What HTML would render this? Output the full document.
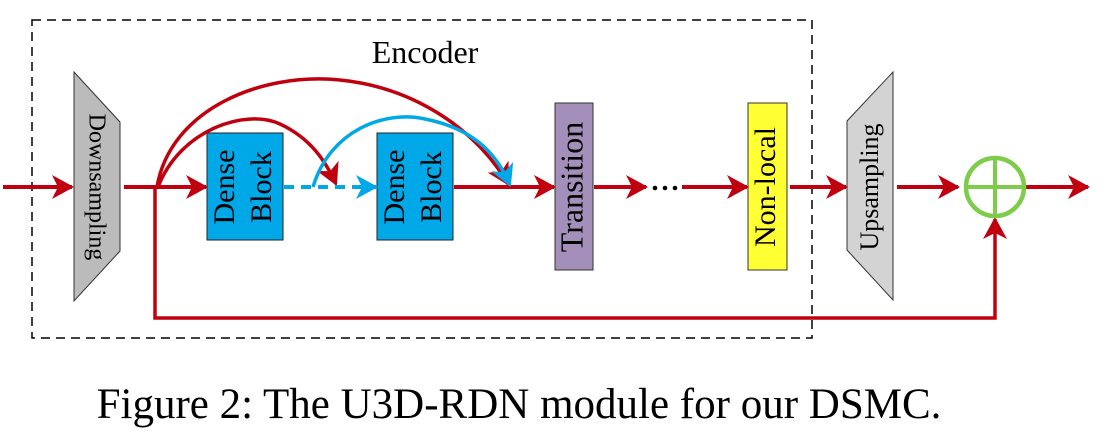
<!DOCTYPE html>
<html><head><style>body{margin:0;background:#fff}svg{display:block}</style></head><body>
<svg width="1110" height="434" viewBox="0 0 1110 434" xmlns="http://www.w3.org/2000/svg" font-family="Liberation Serif, serif">
<defs>
<marker id="ra" markerWidth="22" markerHeight="24" refX="20" refY="12" orient="auto" markerUnits="userSpaceOnUse" viewBox="0 0 22 24"><path d="M0,0 L22,12 L0,24 L6,12z" fill="#c0000e"/></marker>
<marker id="ba" markerWidth="22" markerHeight="24" refX="20" refY="12" orient="auto" markerUnits="userSpaceOnUse" viewBox="0 0 22 24"><path d="M0,0 L22,12 L0,24 L6,12z" fill="#00a8e8"/></marker>
</defs>
<rect x="32" y="20" width="780" height="318" fill="none" stroke="#000" stroke-width="1.5" stroke-dasharray="9,6"/>
<text x="425" y="63" font-size="32" text-anchor="middle">Encoder</text>
<polygon points="74,72 120,122 120,251 74,301" fill="#bbb" stroke="#333" stroke-width="1"/>
<text transform="translate(95,187) rotate(90)" font-size="24" text-anchor="middle" dominant-baseline="middle">Downsampling</text>
<rect x="207" y="133" width="76" height="107" fill="#00a8e8" stroke="#222"/>
<text transform="translate(227,187) rotate(-90)" font-size="30" text-anchor="middle" dominant-baseline="middle">Dense</text>
<text transform="translate(264,187) rotate(-90)" font-size="30" text-anchor="middle" dominant-baseline="middle">Block</text>
<rect x="377" y="133" width="76" height="107" fill="#00a8e8" stroke="#222"/>
<text transform="translate(397,187) rotate(-90)" font-size="30" text-anchor="middle" dominant-baseline="middle">Dense</text>
<text transform="translate(434,187) rotate(-90)" font-size="30" text-anchor="middle" dominant-baseline="middle">Block</text>
<rect x="555" y="103" width="38" height="167" fill="#a38fba" stroke="#333"/>
<text transform="translate(575,187) rotate(-90)" font-size="32" text-anchor="middle" dominant-baseline="middle">Transition</text>
<rect x="748" y="103" width="39" height="167" fill="#ffff33" stroke="#333"/>
<text transform="translate(768,187) rotate(-90)" font-size="30" text-anchor="middle" dominant-baseline="middle">Non-local</text>
<polygon points="847,121 893,72 893,300 847,250" fill="#d3d3d3" stroke="#333"/>
<text transform="translate(872,187) rotate(-90)" font-size="26" text-anchor="middle" dominant-baseline="middle">Upsampling</text>
<g stroke="#c0000e" stroke-width="4" fill="none">
<line x1="3" y1="187" x2="72" y2="187" marker-end="url(#ra)"/>
<line x1="124" y1="187" x2="206" y2="187" marker-end="url(#ra)"/>
<line x1="454" y1="187" x2="554" y2="187" marker-end="url(#ra)"/>
<line x1="594" y1="187" x2="646" y2="187" marker-end="url(#ra)"/>
<line x1="682" y1="187" x2="747" y2="187" marker-end="url(#ra)"/>
<line x1="790" y1="187" x2="846" y2="187" marker-end="url(#ra)"/>
<line x1="897" y1="187" x2="958" y2="187" marker-end="url(#ra)"/>
<line x1="1025" y1="187" x2="1088" y2="187" marker-end="url(#ra)"/>
<path d="M155,187 V318 H995 V219" stroke-width="3.5" marker-end="url(#ra)"/>
<path d="M157,187 C170,110 260,72 340,80 C420,88 480,135 508,184" stroke-width="3.5" marker-end="url(#ra)"/>
<path d="M158,187 C180,130 245,108 280,124 C310,138 325,160 336,184" stroke-width="3.5" marker-end="url(#ra)"/>
</g>
<g fill="#000"><circle cx="655" cy="188" r="2.3"/><circle cx="665" cy="188" r="2.3"/><circle cx="675" cy="188" r="2.3"/></g>
<g stroke="#00a8e8" stroke-width="4" fill="none">
<line x1="284" y1="187" x2="376" y2="187" stroke-dasharray="10,7" marker-end="url(#ba)"/>
<path d="M313,187 C330,130 385,110 425,119 C470,128 495,150 510,185" stroke-width="3.5" marker-end="url(#ba)"/>
</g>
<circle cx="995" cy="187" r="29" fill="none" stroke="#7dcc4a" stroke-width="4.5"/>
<line x1="966" y1="187" x2="1024" y2="187" stroke="#7dcc4a" stroke-width="4"/>
<line x1="995" y1="158" x2="995" y2="216" stroke="#7dcc4a" stroke-width="4"/>
<text x="519" y="418" font-size="43" text-anchor="middle">Figure 2: The U3D-RDN module for our DSMC.</text>
</svg>
</body></html>
